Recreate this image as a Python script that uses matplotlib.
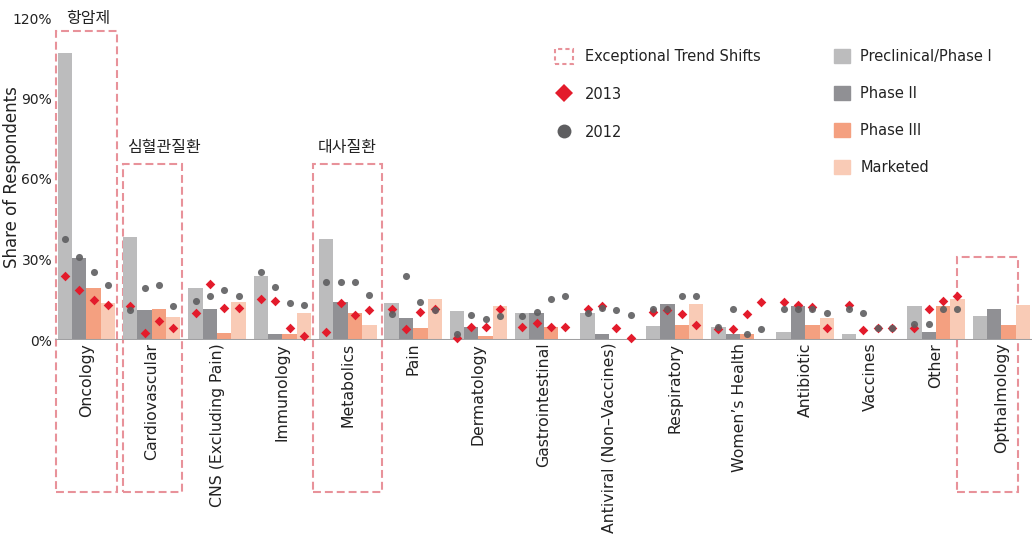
import matplotlib

matplotlib.use("Agg")
import matplotlib.pyplot as plt
import numpy as np
from matplotlib.lines import Line2D
from matplotlib.patches import Rectangle

plt.rcParams["font.family"] = ["DejaVu Sans", "Noto Sans CJK KR"]

categories = [
    "Oncology", "Cardiovascular", "CNS (Excluding Pain)", "Immunology",
    "Metabolics", "Pain", "Dermatology", "Gastrointestinal",
    "Antiviral (Non\u2013Vaccines)", "Respiratory", "Women\u2019s Health",
    "Antibiotic", "Vaccines", "Other", "Opthalmology",
]
stages = ["Preclinical/Phase I", "Phase II", "Phase III", "Marketed"]

# bar values (% of respondents), one list per stage
preclinical = [107, 38.5, 19.5, 24, 37.5, 13.8, 10.8, 10, 10.2, 5.2, 4.8, 3, 2.2, 12.7, 9]
phase2 = [30.5, 11.2, 11.5, 2.2, 14, 8.1, 4.8, 10.2, 2.2, 13.5, 2.2, 12.7, 0, 3.1, 11.6]
phase3 = [19.2, 11.5, 2.5, 2.2, 10.2, 4.4, 1.5, 4.8, 0, 5.5, 2.2, 5.5, 0, 12.5, 5.5]
marketed = [13.7, 8.7, 14, 10.2, 5.6, 15.3, 12.7, 0, 0, 13.5, 0, 8.1, 0, 15.3, 12.9]

# 2013 and 2012 markers, per category (preclinical, phase II, phase III, marketed)
share_2013 = [
    [23.7, 18.7, 15, 12.9], [12.7, 2.6, 7.1, 4.5], [10.1, 21, 12, 12],
    [15.4, 14.5, 4.6, 1.5], [3.1, 13.7, 9.4, 11.2], [11.6, 4.1, 10.6, 11.4],
    [0.6, 4.8, 4.8, 11.5], [4.8, 6.5, 4.8, 4.8], [11.6, 12.5, 4.6, 0.6],
    [10.5, 11.2, 9.7, 5.5], [4, 4.2, 9.7, 14], [14, 12.9, 12.2, 4.5],
    [12.9, 3.7, 4.6, 4.6], [4.6, 11.5, 14.7, 16.5], [np.nan] * 4,
]
share_2012 = [
    [37.7, 31, 25.4, 20.4], [11.2, 19.5, 20.6, 12.7], [14.6, 16.5, 18.7, 16.5],
    [25.5, 19.8, 13.9, 12.9], [21.6, 21.6, 21.6, 16.6], [9.8, 23.7, 14.3, 11],
    [2.2, 9.4, 7.9, 9.1], [9, 10.6, 15.3, 16.3], [10, 11.9, 11.2, 9.4],
    [11.6, 11.6, 16.3, 16.3], [4.8, 11.6, 2.2, 4], [11.4, 11.4, 11.4, 10.1],
    [11.5, 10.1, 4.6, 4.6], [5.9, 5.9, 11.5, 11.5], [np.nan] * 4,
]

# highlighted groups: (category index, left, right, top, note)
highlights = [
    (0, -0.465, 0.47, 115, "항암제"),
    (1, -0.44, 0.463, 65.5, "심혈관질환"),
    (4, -0.53, 0.524, 65.5, "대사질환"),
    (14, -0.68, 0.256, 31, None),
]

bar_colors = ["#bcbcbd", "#909094", "#f4a080", "#f9cbb6"]
box_color = "#e8929a"
red = "#e31b2b"
dot_color = "#5e5e60"
text_color = "#222222"

fig = plt.figure(figsize=(10.36, 5.38), dpi=100)
ax = fig.add_axes([55 / 1036, 198 / 538, 977 / 1036, 322 / 538])

x = np.arange(len(categories))
width = 0.22
offsets = (np.arange(4) - 1.5) * width
m13 = np.array(share_2013)
m12 = np.array(share_2012)

for j, vals in enumerate([preclinical, phase2, phase3, marketed]):
    ax.bar(x + offsets[j], vals, width, color=bar_colors[j], zorder=2)
    ax.scatter(x + offsets[j], m13[:, j], marker="D", s=24, color=red,
               linewidths=0, zorder=4, clip_on=False)
    ax.scatter(x + offsets[j], m12[:, j], marker="o", s=26, color=dot_color,
               alpha=0.9, linewidths=0, zorder=5, clip_on=False)

ax.axhline(0, color="#a0a0a2", lw=2.2, zorder=3)

bottom = -56.6
for idx, left, right, top, note in highlights:
    ax.add_patch(Rectangle((idx + left, bottom), right - left, top - bottom,
                           fill=False, ec=box_color, lw=1.5,
                           ls=(0, (3.8, 1.9)), clip_on=False, zorder=1))
    if note == "항암제":
        ax.text(idx + (left + right) / 2 + 0.02, 120, note, ha="center",
                va="center", fontsize=11.5, color=text_color)
    elif note:
        ax.text(idx + left + 0.07, 71.9, note, ha="left", va="center",
                fontsize=11.5, color=text_color)

ax.set_xlim(-0.48, 14.47)
ax.set_ylim(0, 120)
ax.set_yticks([0, 30, 60, 90, 120])
ax.set_yticklabels([f"{v}%" for v in [0, 30, 60, 90, 120]], fontsize=10,
                   color=text_color)
ax.set_xticks(x)
ax.set_xticklabels(categories, rotation=90, fontsize=11.3, color=text_color)
ax.tick_params(axis="both", length=0)
ax.tick_params(axis="x", pad=2)
ax.tick_params(axis="y", pad=2)
for s in ax.spines.values():
    s.set_visible(False)

fig.text(12 / 1036, 1 - 177 / 538, "Share of Respondents", rotation=90,
         ha="center", va="center", fontsize=12, color=text_color)

h1 = [
    Rectangle((0, 0), 1, 1, fill=False, ec=box_color, lw=1.5, ls=(0, (2, 1.5))),
    Line2D([], [], ls="none", marker="D", ms=9.5, color=red, mew=0),
    Line2D([], [], ls="none", marker="o", ms=10, color=dot_color, mew=0),
]
leg1 = fig.legend(h1, ["Exceptional Trend Shifts", "2013", "2012"],
                  loc="upper left", bbox_to_anchor=(555 / 1036, 1 - 49 / 538),
                  frameon=False, fontsize=10.5, borderpad=0, borderaxespad=0,
                  handlelength=1.2, handleheight=1.2, handletextpad=0.85,
                  labelspacing=1.55, labelcolor=text_color)
h2 = [Rectangle((0, 0), 1, 1, color=c) for c in bar_colors]
leg2 = fig.legend(h2, stages, loc="upper left",
                  bbox_to_anchor=(834 / 1036, 1 - 49 / 538),
                  frameon=False, fontsize=10.5, borderpad=0, borderaxespad=0,
                  handlelength=1.1, handleheight=1.1, handletextpad=0.7,
                  labelspacing=1.5, labelcolor=text_color)

fig.savefig("out.png", dpi=100)
